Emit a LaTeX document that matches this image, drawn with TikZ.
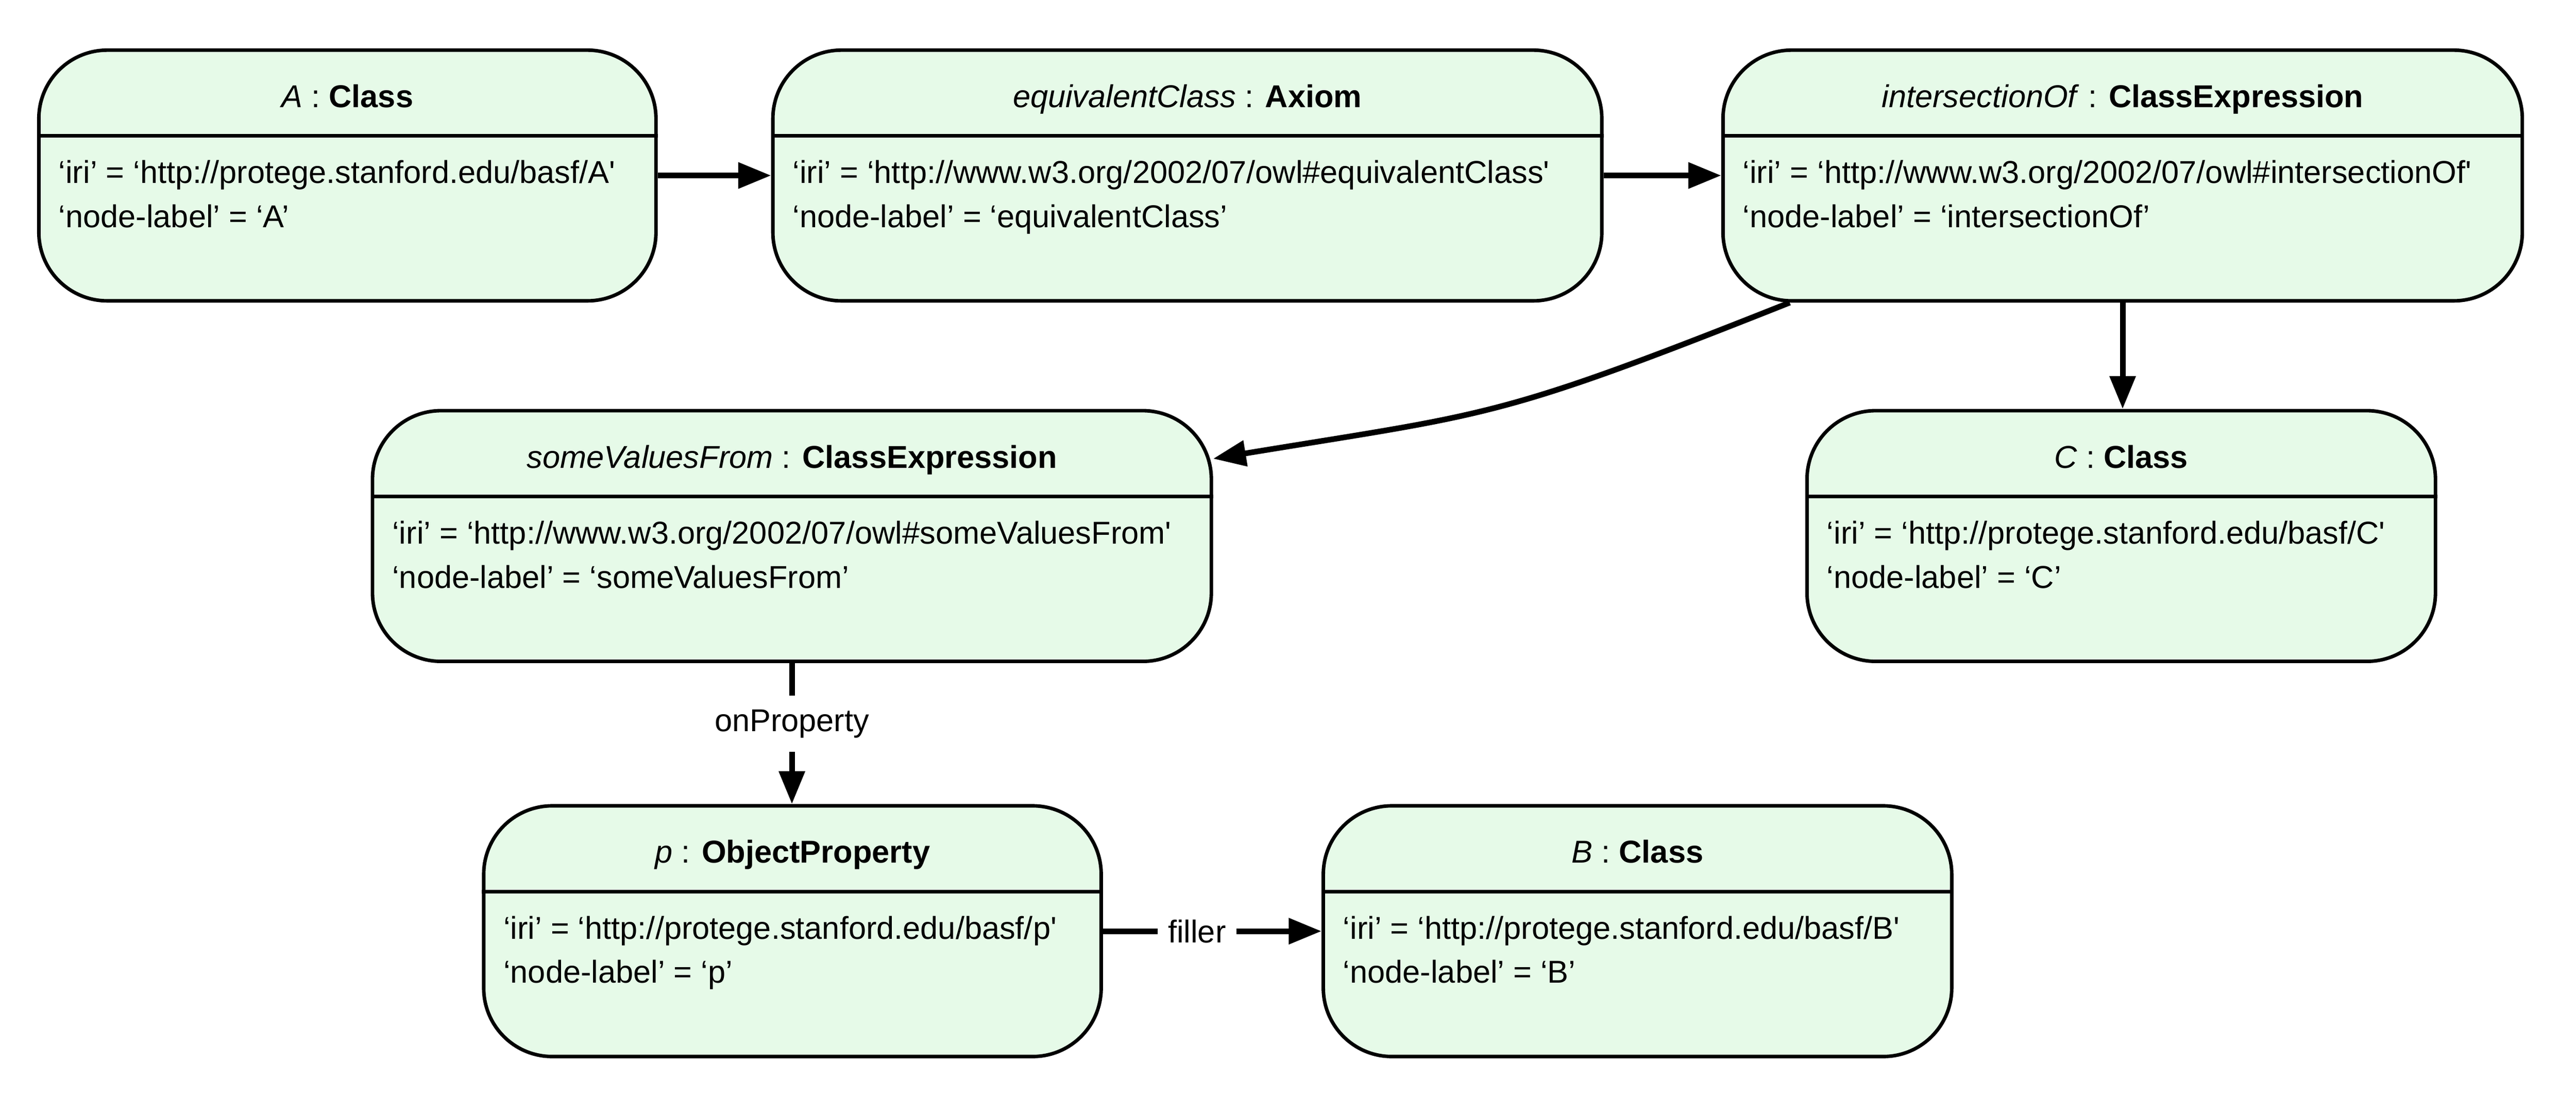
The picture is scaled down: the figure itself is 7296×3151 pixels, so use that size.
\documentclass[tikz,border=0pt]{standalone}
\usepackage{fontspec}
\newfontfamily\hv{Liberation Sans}
\usetikzlibrary{arrows.meta,calc}
\definecolor{boxfill}{RGB}{230,250,232}
\newcommand\txtfont{\hv\fontsize{8.95pt}{12.5pt}\selectfont}
\tikzset{
  objbox/.style={draw=black, line width=1pt, fill=boxfill, rounded corners=19.4pt,
    minimum height=71pt, inner sep=0pt, anchor=north west},
  divline/.style={line width=1pt},
  ttl/.style={font=\txtfont, anchor=base, inner sep=0pt},
  attr/.style={font=\txtfont, anchor=base west, inner sep=0pt},
  link/.style={line width=1.6pt, -{Triangle[length=9.3pt,width=7.1pt]}},
  lbl/.style={font=\txtfont, fill=white, inner xsep=3pt, inner ysep=4pt}
}
% #1 name, #2 left x (px), #3 top y (px), #4 width (pt), #5 italic name, #6 bold type, #7 iri line, #8 label line
\newcommand\objnode[8]{%
  \node[objbox, minimum width=#4pt] (#1) at ({#2-5},{#3-5}) {};
  \draw[divline] ([yshift=-24.8pt]#1.north west) -- ([yshift=-24.8pt]#1.north east);
  \node[ttl] (#1-title) at ([yshift=-16.7pt]#1.north) {\textit{#5} : \textbf{#6}};
  \node[attr] (#1-iri) at ([xshift=5.9pt,yshift=-38.2pt]#1.north west) {#7};
  \node[attr] (#1-lbl) at ([xshift=5.9pt,yshift=-50.7pt]#1.north west) {#8};
}
\begin{document}
\begin{tikzpicture}[x=0.1pt,y=-0.1pt]
\useasboundingbox (0,0) rectangle (7296,3151);
\objnode{A}{110}{142}{174.8}{A}{Class}{‘iri’ = ‘http://protege.stanford.edu/basf/A'}{‘node-label’ = ‘A’}
\objnode{eq}{2189}{142}{234.8}{equivalentClass}{Axiom}{‘iri’ = ‘http://www.w3.org/2002/07/owl\#equivalentClass'}{‘node-label’ = ‘equivalentClass’}
\objnode{inter}{4880}{142}{226.4}{intersectionOf}{ClassExpression}{‘iri’ = ‘http://www.w3.org/2002/07/owl\#intersectionOf'}{‘node-label’ = ‘intersectionOf’}
\objnode{svf}{1055}{1163}{237.6}{someValuesFrom}{ClassExpression}{‘iri’ = ‘http://www.w3.org/2002/07/owl\#someValuesFrom'}{‘node-label’ = ‘someValuesFrom’}
\objnode{C}{5118}{1163}{178.0}{C}{Class}{‘iri’ = ‘http://protege.stanford.edu/basf/C'}{‘node-label’ = ‘C’}
\objnode{p}{1370}{2282}{174.9}{p}{ObjectProperty}{‘iri’ = ‘http://protege.stanford.edu/basf/p'}{‘node-label’ = ‘p’}
\objnode{B}{3748}{2282}{178.0}{B}{Class}{‘iri’ = ‘http://protege.stanford.edu/basf/B'}{‘node-label’ = ‘B’}

\draw[link] (A) -- (eq);
\draw[link] (eq) -- (inter);
\draw[link] (inter.south) -- (inter.south |- C.north);
\coordinate (cstart) at ([xshift=19.4pt]inter.south west);
\coordinate (cend) at ([yshift=-14.1pt]svf.north east);
\draw[link] (cstart) .. controls +(-836,332) and +(790,-130) .. (cend);
\draw[link] (svf.south) -- node[lbl,pos=0.43] (onp) {onProperty} (svf.south |- p.north);
\draw[link] (p.east) -- node[lbl,pos=0.43] (fil) {filler} (B.west);
\end{tikzpicture}
\end{document}
